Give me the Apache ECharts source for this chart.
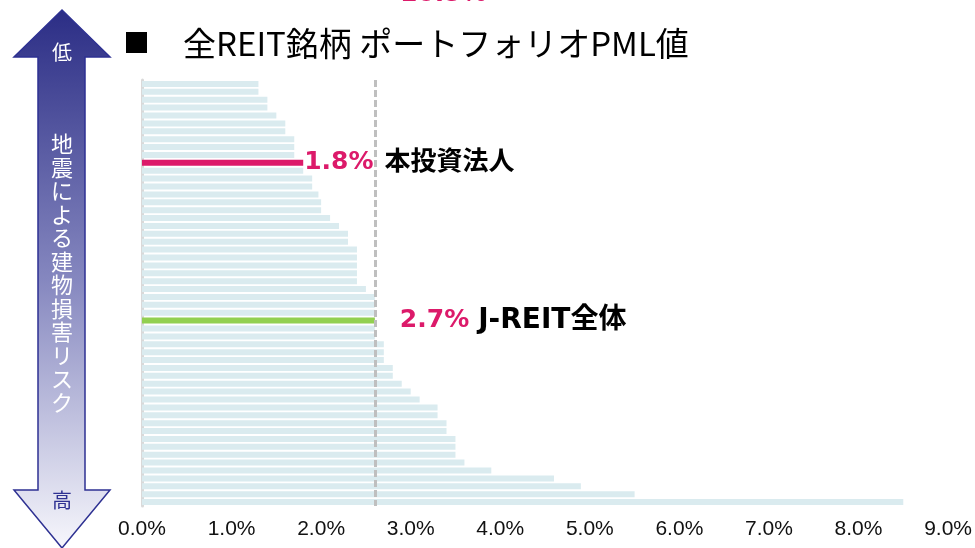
<!DOCTYPE html>
<html>
<head>
<meta charset="utf-8">
<script src="https://cdn.jsdelivr.net/npm/echarts@6.0.0/dist/echarts.min.js"></script>
<style>
  html, body { margin: 0; padding: 0; background: #fff; }
  #chart { width: 975px; height: 548px; }
</style>
</head>
<body>
<div id="chart"></div>
<script>
// PML値（%）、リスクの低い順
const pmlValues = [
  1.3, 1.3, 1.4, 1.4, 1.5, 1.6, 1.6, 1.7, 1.7, 1.7,
  1.8, 1.8, 1.9, 1.9, 1.97, 2.0, 2.0, 2.1, 2.2, 2.3,
  2.3, 2.4, 2.4, 2.4, 2.4, 2.4, 2.5, 2.6, 2.6, 2.6,
  2.6, 2.6, 2.6, 2.7, 2.7, 2.7, 2.8, 2.8, 2.9, 3.0,
  3.1, 3.3, 3.3, 3.4, 3.4, 3.5, 3.5, 3.5, 3.6, 3.9,
  4.6, 4.9, 5.5, 8.5
];
const categories = pmlValues.map((_, i) => String(i + 1));
const xTicks = [0, 1, 2, 3, 4, 5, 6, 7, 8, 9];

const ownIndex = 10;       // 本投資法人
const ownLabel = '1.8%';
const jreitIndex = 30;     // J-REIT全体
const jreitLabel = '2.7%';
const jreitLine = 2.6;
const offChartLabel = '10.5%';

const MAGENTA = '#dc1a6a';
const BAR = '#daebef';
const GREEN = '#92d050';
const LABEL_FONT = "'DejaVu Sans', 'Noto Sans CJK JP', sans-serif";

const seriesData = pmlValues.map((v, i) => {
  if (i === ownIndex) {
    return {
      value: v,
      itemStyle: { color: MAGENTA },
      label: {
        show: true,
        position: 'right',
        distance: 1,
        formatter: '{v|' + ownLabel + '}{n|本投資法人}',
        rich: {
          v: { color: MAGENTA, fontSize: 25, fontWeight: 'bold', fontFamily: LABEL_FONT },
          n: { color: '#000', fontSize: 26, fontWeight: 'bold', fontFamily: LABEL_FONT, padding: [0, 0, 0, 11] }
        }
      }
    };
  }
  if (i === jreitIndex) {
    return {
      value: v,
      itemStyle: { color: GREEN },
      label: {
        show: true,
        position: 'right',
        distance: 25,
        formatter: '{v|' + jreitLabel + '}{n|J-REIT全体}',
        rich: {
          v: { color: MAGENTA, fontSize: 25, fontWeight: 'bold', fontFamily: LABEL_FONT },
          n: { color: '#000', fontSize: 28, fontWeight: 'bold', fontFamily: LABEL_FONT, padding: [0, 0, 0, 9] }
        }
      }
    };
  }
  return v;
});

// 左側の両矢印
const arrowPoints = [
  [62, 10], [110, 57], [85, 57], [85, 490], [110, 490],
  [62, 548], [14, 490], [38, 490], [38, 57], [14, 57]
];

const chart = echarts.init(document.getElementById('chart'));
chart.setOption({
  animation: false,
  grid: { left: 142, right: 26, top: 80, bottom: 42, containLabel: false },
  xAxis: {
    type: 'value',
    min: xTicks[0],
    max: xTicks[xTicks.length - 1],
    interval: 1,
    axisLine: { show: false },
    axisTick: { show: false },
    splitLine: { show: false },
    axisLabel: {
      margin: 13,
      color: '#111',
      fontSize: 21,
      fontFamily: "'Liberation Sans', Arial, sans-serif",
      formatter: v => v.toFixed(1) + '%'
    }
  },
  yAxis: {
    type: 'category',
    inverse: true,
    data: categories,
    axisLine: { show: true, lineStyle: { color: '#d9d9d9', width: 3 } },
    axisTick: { show: false },
    axisLabel: { show: false }
  },
  series: [{
    type: 'bar',
    data: seriesData,
    barWidth: 6,
    itemStyle: { color: BAR },
    markLine: {
      silent: true,
      symbol: 'none',
      label: { show: false },
      lineStyle: { color: '#bfbfbf', width: 3, type: [7, 3] },
      data: [{ xAxis: jreitLine }]
    }
  }],
  graphic: [
    {
      type: 'polygon',
      shape: { points: arrowPoints },
      style: {
        fill: new echarts.graphic.LinearGradient(0, 0, 0, 1, [
          { offset: 0, color: '#2b2d85' },
          { offset: 0.5, color: '#8587bf' },
          { offset: 1, color: '#f7f7fc' }
        ]),
        stroke: '#2e3192',
        lineWidth: 1.5
      }
    },
    {
      type: 'text', x: 62, y: 52,
      style: { text: '低', fill: '#fff', fontSize: 20, fontFamily: 'Noto Sans CJK JP', align: 'center', verticalAlign: 'middle' }
    },
    {
      type: 'text', x: 62, y: 132,
      style: {
        text: '地震による建物損害リスク'.split('').join('\n'),
        fill: '#fff', fontSize: 22, lineHeight: 23.5,
        fontFamily: 'Noto Sans CJK JP', align: 'center', verticalAlign: 'top'
      }
    },
    {
      type: 'text', x: 62, y: 500,
      style: { text: '高', fill: '#2e3192', fontSize: 20, fontFamily: 'Noto Sans CJK JP', align: 'center', verticalAlign: 'middle' }
    },
    {
      type: 'rect', shape: { x: 126, y: 32, width: 21, height: 21 },
      style: { fill: '#000' }
    },
    {
      type: 'text', x: 183, y: 43,
      style: {
        text: '全REIT銘柄 ポートフォリオPML値',
        fill: '#000', fontSize: 33, fontFamily: 'Noto Sans CJK JP', verticalAlign: 'middle'
      }
    },
    {
      type: 'text', x: 400, y: -6,
      style: {
        text: offChartLabel, fill: MAGENTA, fontSize: 25, fontWeight: 'bold',
        fontFamily: LABEL_FONT, verticalAlign: 'middle'
      }
    }
  ]
});
</script>
</body>
</html>
